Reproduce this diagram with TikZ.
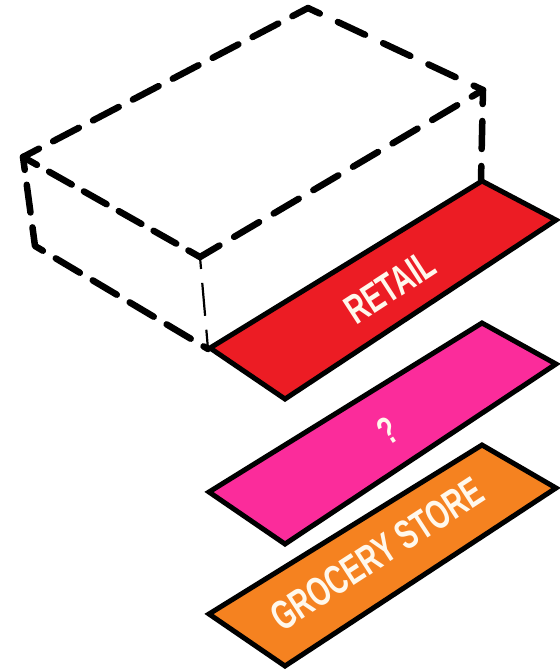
\documentclass[tikz,border=0pt]{standalone}
\usepackage{fontspec}
\setmainfont{Liberation Sans}
\newfontfamily\slabfont[FakeStretch=0.68]{Liberation Sans Bold}
\definecolor{retailred}{HTML}{EC1C24}
\definecolor{hotpink}{HTML}{FB2C9B}
\definecolor{storeorange}{HTML}{F58220}
\definecolor{labelcream}{HTML}{FFF8EC}
\tikzset{
  heavydash/.style={line width=6.5pt,line cap=round,line join=round},
  thindash/.style={line width=2.2pt,dash pattern=on 33pt off 14pt,dash phase=21pt},
  slab/.style={draw=black,line width=5pt,line join=miter,miter limit=4},
  slablabel/.style={text=labelcream,rotate=33,inner sep=0pt}
}
\begin{document}
\begin{tikzpicture}[x=1pt,y=-1pt]
\useasboundingbox (0,0) rectangle (560,670);
\coordinate (back) at (308,8);
\coordinate (right) at (483,90);
\coordinate (front) at (200,257);
\coordinate (left) at (23,157);
\coordinate (lowleft) at (35,246);
\coordinate (base) at (208,349);
\coordinate (baseright) at (481,180);
% slabs
\draw[slab,fill=retailred] (210,348) -- (482,181) -- (556,220) -- (285,399) -- cycle;
\draw[slab,fill=hotpink] (209,492) -- (482,323) -- (556,364) -- (285,544) -- cycle;
\draw[slab,fill=storeorange] (209,614) -- (482,445) -- (556,488) -- (285,666) -- cycle;
% dashed box
\draw[heavydash,dash pattern=on 29pt off 16pt,dash phase=11pt] (left) -- (back);
\draw[heavydash,dash pattern=on 30pt off 20pt,dash phase=17pt] (back) -- (right);
\draw[heavydash,dash pattern=on 29pt off 17pt,dash phase=16pt] (right) -- (front);
\draw[heavydash,dash pattern=on 26pt off 14pt,dash phase=10pt] (left) -- (front);
\draw[heavydash,dash pattern=on 28pt off 15pt,dash phase=15pt] (left) -- (lowleft) -- (base);
\draw[heavydash,dash pattern=on 28pt off 17pt,dash phase=14pt] (right) -- (baseright);
\draw[thindash] (front) -- (base);
% labels
\node[slablabel] (retail) at (390,287) {\slabfont\fontsize{41}{41}\selectfont RETAIL};
\node[slablabel] (unknown) at (388,431) {\slabfont\fontsize{39}{39}\selectfont ?};
\node[slablabel] (grocery) at (377,554) {\slabfont\fontsize{41}{41}\selectfont GROCERY STORE};
\end{tikzpicture}
\end{document}
